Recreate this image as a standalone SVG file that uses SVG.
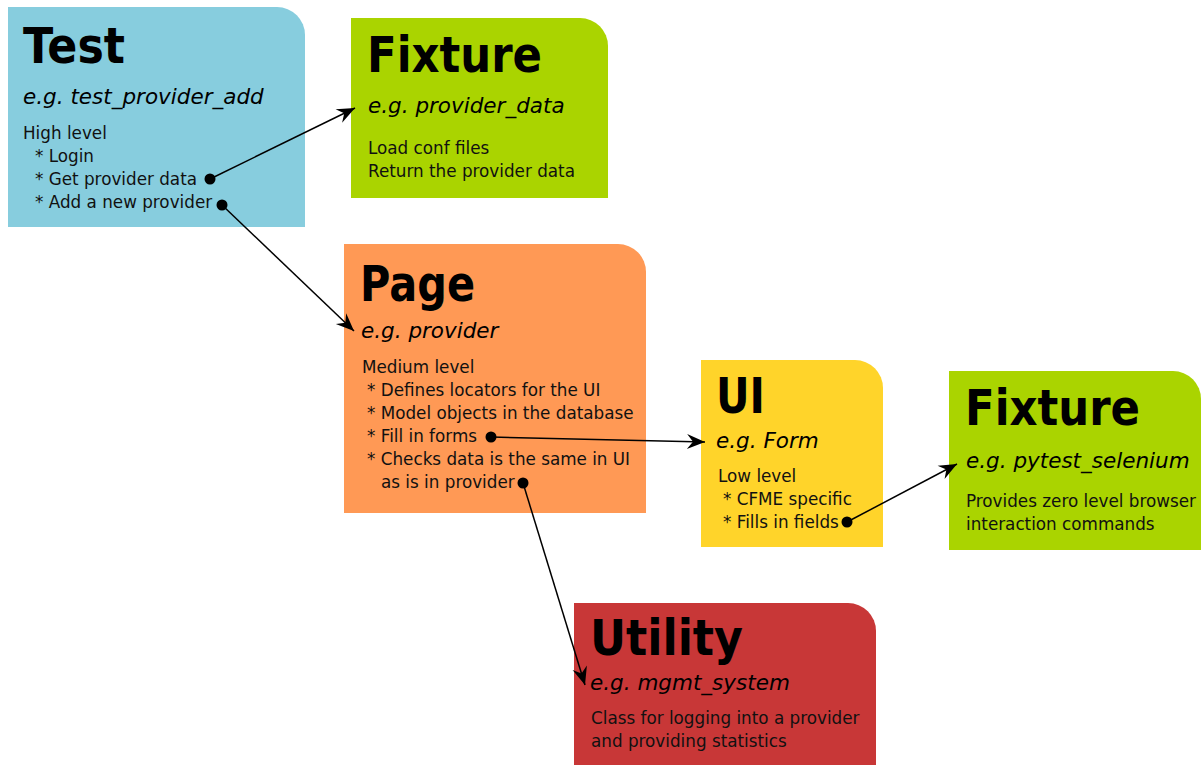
<svg xmlns="http://www.w3.org/2000/svg" width="1201" height="765" viewBox="0 0 1201 765">
<style>
.title{font-family:"DejaVu Sans",sans-serif;font-weight:bold;font-size:50px;fill:#000}
.sub{font-family:"DejaVu Sans",sans-serif;font-style:italic;font-size:21.5px;fill:#000}
.body{font-family:"DejaVu Sans",sans-serif;font-size:16.8px;fill:#111}
.conn{stroke:#000;stroke-width:1.5;fill:none}
.dot{fill:#000}
</style>
<defs>
<marker id="arr" markerUnits="userSpaceOnUse" viewBox="-20 -10 22 20" refX="0" refY="0" markerWidth="22" markerHeight="20" orient="auto">
<path d="M0,0 L-18,-7.5 L-12,0 L-18,7.5 Z" fill="#000"/>
</marker>
</defs>
<rect width="1201" height="765" fill="#fff"/>

<g id="test">
<path d="M8,7 H277 A28,28 0 0 1 305,35 V227 H8 Z" fill="#87cdde"/>
<text class="title" x="23" y="63" textLength="102" lengthAdjust="spacingAndGlyphs">Test</text>
<text class="sub" x="23" y="104">e.g. test_provider_add</text>
<text class="body" x="23" y="139">High level</text>
<text class="body" x="35" y="162">* Login</text>
<text class="body" x="35" y="185">* Get provider data</text>
<text class="body" x="35" y="208">* Add a new provider</text>
</g>

<g id="fixture1">
<path d="M351,18 H580 A28,28 0 0 1 608,46 V198 H351 Z" fill="#aad400"/>
<text class="title" x="367" y="72" textLength="175" lengthAdjust="spacingAndGlyphs">Fixture</text>
<text class="sub" x="368" y="113">e.g. provider_data</text>
<text class="body" x="368" y="154">Load conf files</text>
<text class="body" x="368" y="177">Return the provider data</text>
</g>

<g id="page">
<path d="M344,244 H618 A28,28 0 0 1 646,272 V513 H344 Z" fill="#ff9955"/>
<text class="title" x="360" y="301" textLength="115" lengthAdjust="spacingAndGlyphs">Page</text>
<text class="sub" x="361" y="338">e.g. provider</text>
<text class="body" x="362" y="373">Medium level</text>
<text class="body" x="367" y="396">* Defines locators for the UI</text>
<text class="body" x="367" y="419">* Model objects in the database</text>
<text class="body" x="367" y="442">* Fill in forms</text>
<text class="body" x="367" y="465">* Checks data is the same in UI</text>
<text class="body" x="381" y="488">as is in provider</text>
</g>

<g id="ui">
<path d="M701,360 H855 A28,28 0 0 1 883,388 V547 H701 Z" fill="#ffd42a"/>
<text class="title" x="716" y="413" textLength="49" lengthAdjust="spacingAndGlyphs">UI</text>
<text class="sub" x="716" y="448">e.g. Form</text>
<text class="body" x="718" y="482">Low level</text>
<text class="body" x="723" y="505">* CFME specific</text>
<text class="body" x="723" y="528">* Fills in fields</text>
</g>

<g id="fixture2">
<path d="M949,371 H1173 A28,28 0 0 1 1201,399 V550 H949 Z" fill="#aad400"/>
<text class="title" x="965" y="425" textLength="175" lengthAdjust="spacingAndGlyphs">Fixture</text>
<text class="sub" x="966" y="468">e.g. pytest_selenium</text>
<text class="body" x="966" y="507">Provides zero level browser</text>
<text class="body" x="966" y="530">interaction commands</text>
</g>

<g id="utility">
<path d="M574,603 H848 A28,28 0 0 1 876,631 V765 H574 Z" fill="#c83737"/>
<text class="title" x="590" y="655" textLength="153" lengthAdjust="spacingAndGlyphs">Utility</text>
<text class="sub" x="590" y="690">e.g. mgmt_system</text>
<text class="body" x="591" y="724">Class for logging into a provider</text>
<text class="body" x="591" y="747">and providing statistics</text>
</g>

<g id="connectors">
<line class="conn" x1="210" y1="179" x2="355" y2="108" marker-end="url(#arr)"/>
<circle class="dot" cx="210" cy="179" r="5.5"/>
<line class="conn" x1="222" y1="205" x2="354" y2="331" marker-end="url(#arr)"/>
<circle class="dot" cx="222" cy="205" r="5.5"/>
<line class="conn" x1="491" y1="437" x2="705" y2="442" marker-end="url(#arr)"/>
<circle class="dot" cx="491" cy="437" r="5.5"/>
<line class="conn" x1="523" y1="483" x2="585" y2="685" marker-end="url(#arr)"/>
<circle class="dot" cx="523" cy="483" r="5.5"/>
<line class="conn" x1="847" y1="522" x2="957" y2="464" marker-end="url(#arr)"/>
<circle class="dot" cx="847" cy="522" r="5.5"/>
</g>
</svg>
